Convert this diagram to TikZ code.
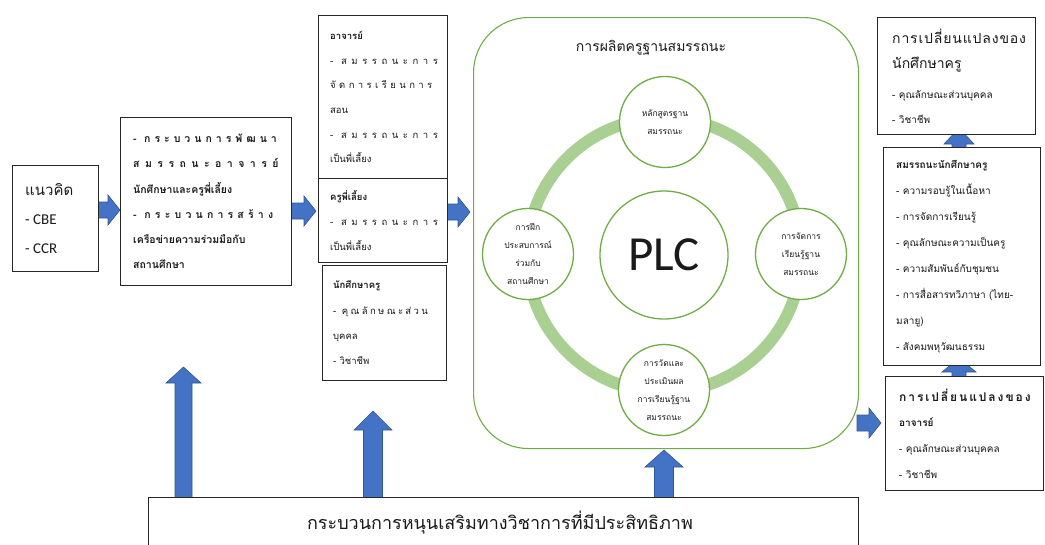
\documentclass[tikz,border=0pt]{standalone}
\usepackage{fontspec}
\setmainfont{Carlito}
\newfontfamily\thf[Script=Thai]{Loma}
\newfontfamily\plcf{Carlito}
\usetikzlibrary{calc}
\definecolor{arrowc}{HTML}{4472C4}
\definecolor{arrowd}{HTML}{2F5597}
\definecolor{grn}{HTML}{70AD47}
\definecolor{ringc}{HTML}{A9CF92}
\definecolor{boxc}{HTML}{262626}
\definecolor{txtc}{HTML}{1A1A1A}
\newcommand{\spr}[2]{{\addfontfeature{LetterSpace=#1}#2}}
% right block arrow: x-start, x-tip, y-centre
\newcommand{\blkR}[3]{\fill[arrowc,draw=arrowd,line width=0.6]
  (#1,#3-8) -- (#2-12,#3-8) -- (#2-12,#3-15) -- (#2,#3) -- (#2-12,#3+15)
  -- (#2-12,#3+8) -- (#1,#3+8) -- cycle;}
% up block arrow: x-centre, y-tip, y-bottom, head length, shaft half, head half
\newcommand{\blkU}[6]{\fill[arrowc,draw=arrowd,line width=0.6]
  (#1-#5,#3) -- (#1-#5,#2+#4) -- (#1-#6,#2+#4) -- (#1,#2) -- (#1+#6,#2+#4)
  -- (#1+#5,#2+#4) -- (#1+#5,#3) -- cycle;}
\begin{document}
\begin{tikzpicture}[x=1pt,y=-1pt,
  box/.style={draw=boxc,line width=1.1,fill=white,rectangle,inner sep=0,anchor=north west},
  txt/.style={align=left,inner sep=0,text=txtc,anchor=west},
  cnode/.style={circle,draw=grn,line width=1.3,fill=white,inner sep=0,align=center,
    text=txtc,font=\thf\fontsize{8.5}{18}\selectfont}]
\useasboundingbox[fill=white] (0,0) rectangle (1045,544);

% arrows (drawn first, boxes cover their ends)
\blkR{97}{120}{210}
\blkR{291}{316}{211}
\blkR{447}{470}{212}
\blkR{857}{881}{423}
\blkU{183.5}{367}{500}{16}{8.5}{17.5}
\blkU{373}{411}{500}{19}{9.5}{19}
\blkU{664}{450}{500}{17}{9.5}{19}
\blkU{959}{128}{152}{16}{7}{15}
\blkU{959}{358}{380}{14}{7}{17}

% left boxes
\node[box,minimum width=86,minimum height=106] (b1) at (12,165) {};
\node[txt,font=\thf\fontsize{15}{29}\selectfont] (t1) at ($(b1.west)+(13,0)$)
  {แนวคิด\\{\rmfamily - CBE}\\{\rmfamily - CCR}};

\node[box,minimum width=171,minimum height=168] (b2) at (120,117) {};
\node[txt,font=\thf\bfseries\fontsize{10.5}{25.2}\selectfont] (t2) at ($(b2.west)+(13,0)$)
  {\spr{38}{- กระบวนการพัฒนา}\\\spr{52}{สมรรถนะอาจารย์}\\นักศึกษาและครูพี่เลี้ยง\\\spr{40}{- กระบวนการสร้าง}\\เครือข่ายความร่วมมือกับ\\สถานศึกษา};

\node[box,minimum width=129,minimum height=163] (b3) at (318,15) {};
\node[txt,font=\thf\fontsize{9.5}{24.6}\selectfont] (t3) at ($(b3.west)+(12,0)$)
  {\textbf{อาจารย์}\\\spr{48}{- สมรรถนะการ}\\\spr{36}{จัดการเรียนการ}\\สอน\\\spr{48}{- สมรรถนะการ}\\เป็นพี่เลี้ยง};

\node[box,minimum width=129,minimum height=84] (b4) at (318,178) {};
\node[txt,font=\thf\fontsize{9.5}{24.6}\selectfont] (t4) at ($(b4.west)+(12,0)$)
  {\textbf{ครูพี่เลี้ยง}\\\spr{48}{- สมรรถนะการ}\\เป็นพี่เลี้ยง};

\node[box,minimum width=124,minimum height=115] (b5) at (322,265) {};
\node[txt,font=\thf\fontsize{9.5}{25.3}\selectfont] (t5) at ($(b5.west)+(11,0)$)
  {\textbf{นักศึกษาครู}\\\spr{25}{- คุณลักษณะส่วน}\\บุคคล\\- วิชาชีพ};

% central frame
\node[draw=grn,line width=1.1,rounded corners=55,fill=white,inner sep=0,anchor=north west,
  minimum width=385,minimum height=431] (frame) at (473,17) {};
\node[text=txtc,inner sep=0,font=\thf\fontsize{14}{16}\selectfont] (title) at (651,48) {การผลิตครูฐานสมรรถนะ};
\coordinate (rc) at (664,255);
\draw[ringc,line width=12] (rc) circle[radius=137pt];
\node[cnode,minimum size=128] (plc) at (rc) {\plcf\fontsize{49}{50}\selectfont PLC};
\node[cnode,minimum size=91] (ctop) at (665,122) {หลักสูตรฐาน\\สมรรถนะ};
\node[cnode,minimum size=91] (cright) at (801,254) {การจัดการ\\เรียนรู้ฐาน\\สมรรถนะ};
\node[cnode,minimum size=91] (cbot) at (664,390) {การวัดและ\\ประเมินผล\\การเรียนรู้ฐาน\\สมรรถนะ};
\node[cnode,minimum size=91] (cleft) at (528,254) {การฝึก\\ประสบการณ์\\ร่วมกับ\\สถานศึกษา};

% right boxes
\node[box,minimum width=158,minimum height=117] (r1) at (877,17) {};
\node[txt,font=\thf\fontsize{10}{25}\selectfont] (tr1) at ($(r1.west)+(15,0)$)
  {{\fontsize{14}{16}\selectfont\spr{6}{การเปลี่ยนแปลงของ}}\\{\fontsize{14}{16}\selectfont นักศึกษาครู}\\[5pt]- คุณลักษณะส่วนบุคคล\\- วิชาชีพ};

\node[box,minimum width=157,minimum height=218] (r2) at (883,147) {};
\node[txt,font=\thf\fontsize{10}{26.1}\selectfont] (tr2) at ($(r2.west)+(13,0)$)
  {\textbf{สมรรถนะนักศึกษาครู}\\- ความรอบรู้ในเนื้อหา\\- การจัดการเรียนรู้\\- คุณลักษณะความเป็นครู\\- ความสัมพันธ์กับชุมชน\\- การสื่อสารทวิภาษา (ไทย-\\มลายู)\\- สังคมพหุวัฒนธรรม};

\node[box,minimum width=158,minimum height=114] (r3) at (885,376) {};
\node[txt,font=\thf\fontsize{10}{25.7}\selectfont] (tr3) at ($(r3.west)+(14,0)$)
  {{\bfseries\fontsize{12}{14}\selectfont\spr{16}{การเปลี่ยนแปลงของ}}\\\textbf{อาจารย์}\\- คุณลักษณะส่วนบุคคล\\- วิชาชีพ};

% bottom box
\node[box,minimum width=710,minimum height=70] (bot) at (148,497) {};
\node[text=txtc,inner sep=0,font=\thf\fontsize{18}{20}\selectfont] (tbot) at (500,523)
  {กระบวนการหนุนเสริมทางวิชาการที่มีประสิทธิภาพ};
\end{tikzpicture}
\end{document}
